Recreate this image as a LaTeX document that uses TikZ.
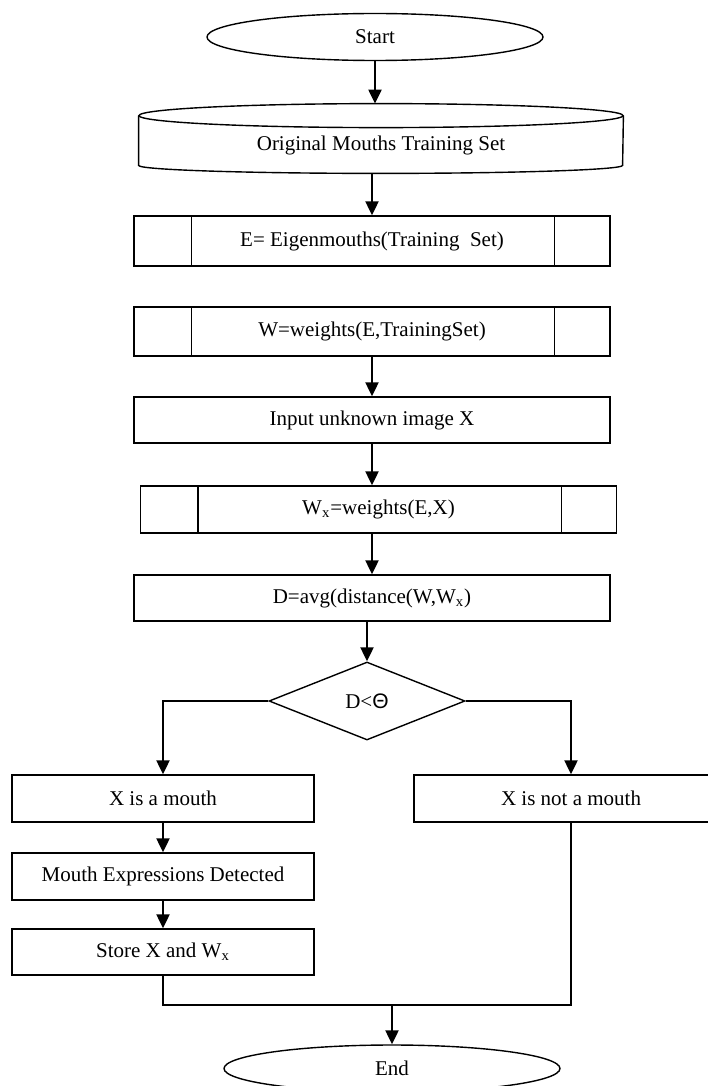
\documentclass[tikz,border=0pt]{standalone}
\usepackage{fontspec}
\setmainfont{Liberation Serif}
\setsansfont{Liberation Sans}
\usetikzlibrary{shapes.geometric,arrows.meta}
\begin{document}
\begin{tikzpicture}[x=0.5pt,y=0.5pt,font=\fontsize{10.5}{12}\selectfont,
    box/.style={draw,line width=0.7pt,minimum width=238pt,minimum height=23.5pt,inner sep=0pt},
    sbox/.style={box,minimum width=151pt},
    term/.style={draw,ellipse,line width=0.7pt,minimum width=168pt,minimum height=23.5pt,inner sep=0pt},
    arr/.style={line width=1.1pt,-{Triangle[length=7pt,width=6.5pt]}},
    ln/.style={line width=1.1pt}]
                \useasboundingbox (0,0) rectangle (707,-1086);
                \fill[white] (0,0) rectangle (707,-1086);
                \node[term] (start) at (375,-37) {Start};
                \node[minimum width=242pt,minimum height=34.5pt,inner sep=0pt] (orig) at (381,-138.5) {};
                \node at (381,-145) {Original Mouths Training Set};
                \draw[line width=0.7pt] ([yshift=-6pt]orig.north) ellipse[x radius=121pt,y radius=6pt];
                \draw[line width=0.7pt] ([yshift=-6pt]orig.north west) -- ([yshift=4pt]orig.south west)
                    arc[start angle=180,end angle=360,x radius=121pt,y radius=4pt] -- ([yshift=-6pt]orig.north east);
                \node[box,minimum height=25pt] (E) at (372,-241) {E= Eigenmouths(Training \ Set)};
                \node[box,minimum height=24.5pt] (W) at (372,-331.5) {W=weights(E,TrainingSet)};
                \node[box,minimum height=23pt] (inp) at (372,-420) {Input unknown image X};
                \node[box] (Wx) at (378.5,-509.5) {W\textsubscript{x}=weights(E,X)};
                \node[box,minimum height=23pt] (D) at (372,-598) {D=avg(distance(W,W\textsubscript{x})};
                \foreach \n in {E,W,Wx}
                    \draw[line width=0.7pt] ([xshift=29pt]\n.north west) -- ([xshift=29pt]\n.south west)
                        ([xshift=-28pt]\n.north east) -- ([xshift=-28pt]\n.south east);
                \node[draw,diamond,line width=0.7pt,minimum width=98pt,minimum height=39pt,inner sep=0pt] (dec) at (367,-701) {D<{\sffamily Θ}};
                \node[sbox] (mouth) at (163,-798.5) {X is a mouth};
                \node[box,minimum width=157pt] (notm) at (571,-798.5) {X is not a mouth};
                \node[sbox] (expr) at (163,-876.5) {Mouth Expressions Detected};
                \node[sbox,minimum height=23pt] (store) at (163,-952) {Store X and W\textsubscript{x}};
                \node[term] (end) at (392,-1068.5) {End};
                \coordinate (mrg) at (392,-1005);
                \draw[arr] (start.south) -- (start.south |- orig.north);
                \draw[arr] (E.north |- orig.south) -- (E.north);
                \draw[arr] (W.south) -- (inp.north);
                \draw[arr] (inp.south) -- (inp.south |- Wx.north);
                \draw[arr] (D.north |- Wx.south) -- (D.north);
                \draw[arr] (dec.north |- D.south) -- (dec.north);
                \draw[arr] (dec.west) -| (mouth.north);
                \draw[arr] (dec.east) -| (notm.north);
                \draw[arr] (mouth.south) -- (expr.north);
                \draw[arr] (expr.south) -- (store.north);
                \draw[ln] (store.south) |- (mrg) -| (notm.south);
                \draw[arr] (mrg) -- (end.north);
\end{tikzpicture}
\end{document}
